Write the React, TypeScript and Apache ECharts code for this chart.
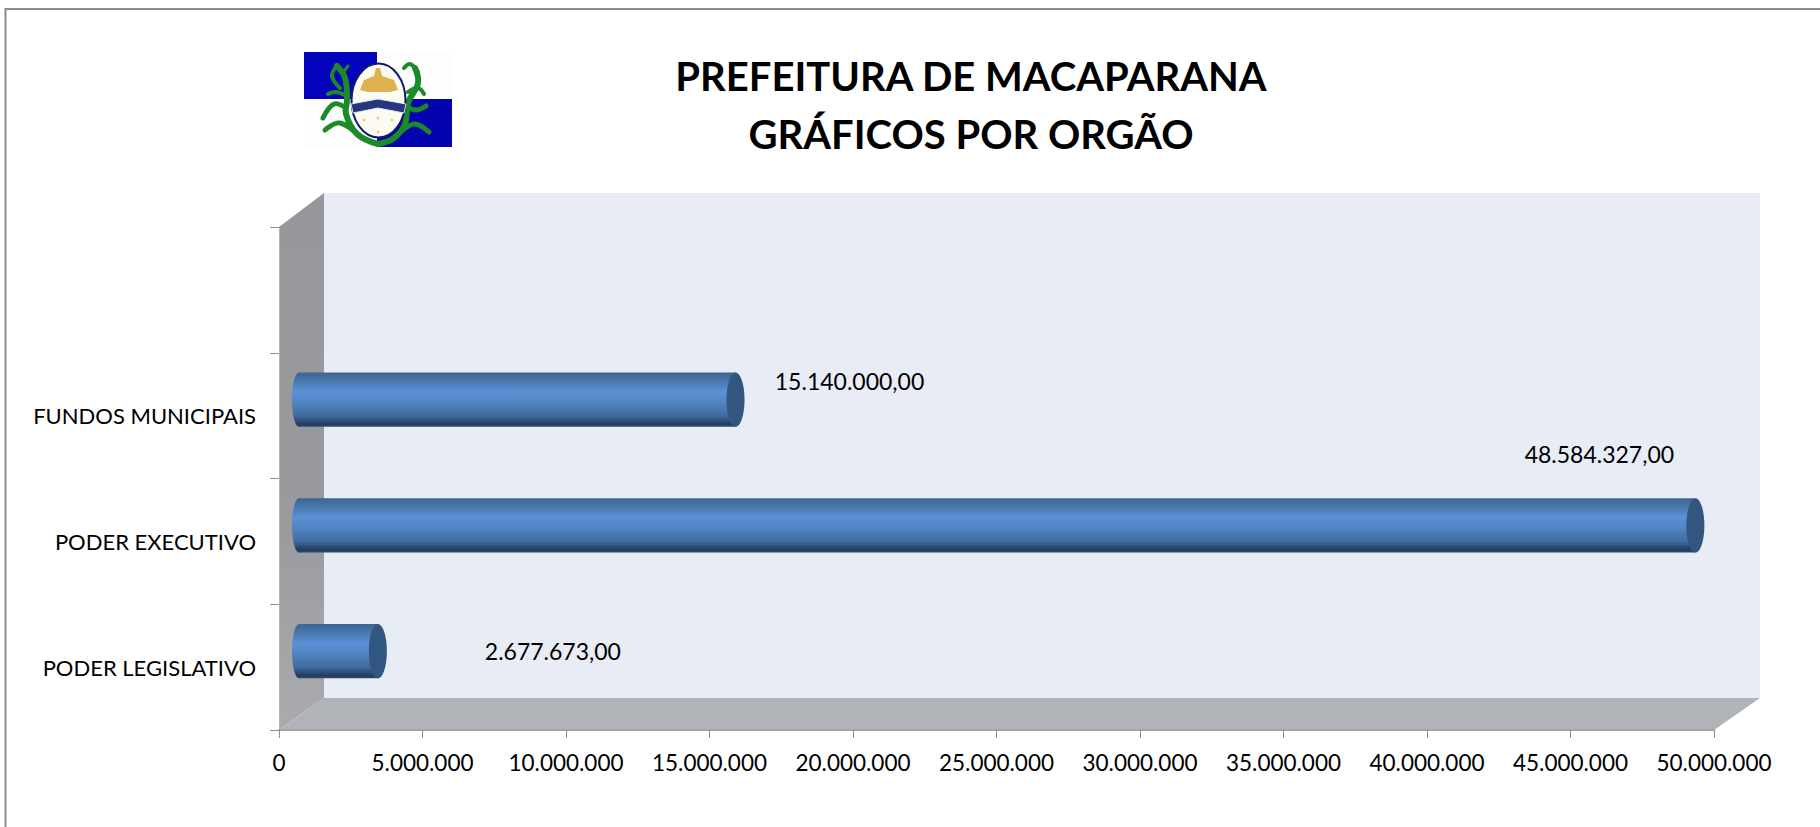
import React, { useEffect, useRef } from "react";
import * as echarts from "echarts";

const categories = ["PODER LEGISLATIVO", "PODER EXECUTIVO", "FUNDOS MUNICIPAIS", ""];
const values = [2677673, 48584327, 15140000];
const titleLines = ["PREFEITURA DE MACAPARANA", "GRÁFICOS POR ORGÃO"];
const axisMax = 50000000;
const axisStep = 5000000;
const labelShiftX = [166, -105, 105];
const labelShiftY = [0, -71, -19];

const FONT = "Lato";
const G = { l: 279, r: 1714, t: 227, b: 730 };
const D = { x: 45, y: 32 };

const thousands = (n: number) => String(Math.round(n)).replace(/\B(?=(\d{3})+(?!\d))/g, ".");
const money = (n: number) => thousands(n) + ",00";

const barGradient = () =>
  new echarts.graphic.LinearGradient(0, 0, 0, 1, [
    { offset: 0, color: "#3d6595" },
    { offset: 0.1, color: "#44709f" },
    { offset: 0.35, color: "#5a90d6" },
    { offset: 0.55, color: "#5385c4" },
    { offset: 0.8, color: "#3f6a9c" },
    { offset: 0.95, color: "#233c5e" },
    { offset: 1, color: "#2c4a70" },
  ]);

function renderBar(params: any, api: any) {
  const i = api.value(0);
  const v = api.value(1);
  const zero = api.coord([0, i]);
  const end = api.coord([v, i]);
  const band = api.size([0, 1])[1];
  const cy = zero[1] - 16;
  const h = band * 0.216;
  const x0 = zero[0] + 13;
  const x1 = end[0] + 31;
  const capRx = 9;
  return {
    type: "group",
    children: [
      { type: "ellipse", shape: { cx: x0 + 7, cy, rx: 7, ry: h }, style: { fill: barGradient() } },
      { type: "rect", shape: { x: x0 + 7, y: cy - h, width: x1 - x0 - 7 - capRx, height: h * 2 }, style: { fill: barGradient() } },
      { type: "ellipse", shape: { cx: x1 - capRx, cy, rx: capRx, ry: h }, style: { fill: "#31567f" } },
      {
        type: "text",
        x: x1 + labelShiftX[i],
        y: cy + labelShiftY[i],
        style: { text: money(v), fill: "#000", font: `23px ${FONT}`, align: "center", verticalAlign: "middle" },
      },
    ],
  };
}

const poly = (points: number[][], fill: any) => ({ type: "polygon", silent: true, shape: { points }, style: { fill } });

const sceneGraphics = () => [
  { type: "rect", silent: true, shape: { x: 5.5, y: 9, width: 1900, height: 900 }, style: { fill: "#fff", stroke: "#8c8c8c", lineWidth: 2 } },
  { type: "rect", silent: true, shape: { x: G.l + D.x, y: G.t - D.y - 2, width: G.r - G.l + 1, height: G.b - G.t + 2 }, style: { fill: "#e8ecf5" } },
  poly(
    [[G.l, G.t], [G.l + D.x, G.t - D.y - 2], [G.l + D.x, G.b - D.y], [G.l, G.b]],
    new echarts.graphic.LinearGradient(0, 0, 0, 1, [
      { offset: 0, color: "#96979b" },
      { offset: 0.6, color: "#999a9e" },
      { offset: 1, color: "#a9abaf" },
    ])
  ),
  poly([[G.l, G.b], [G.l + D.x, G.b - D.y], [G.r + D.x + 1, G.b - D.y], [G.r, G.b]], "#b0b3b7"),
  { type: "group", x: 304, y: 52, children: logoParts() },
];

function logoParts() {
  const leaf = (pts: number[][], w = 4) => ({
    type: "polyline",
    silent: true,
    shape: { points: pts, smooth: 0.4 },
    style: { stroke: "#1c8a28", lineWidth: w, fill: "none", lineCap: "round", lineJoin: "round" },
  });
  return [
    { type: "rect", silent: true, shape: { x: 0, y: 0, width: 148, height: 95 }, style: { fill: "#fcfdfc" } },
    { type: "rect", silent: true, shape: { x: 0, y: 0, width: 73, height: 47 }, style: { fill: "#0303bb" } },
    { type: "rect", silent: true, shape: { x: 73, y: 47, width: 75, height: 48 }, style: { fill: "#0303b0" } },
    leaf([[33, 14], [41, 26], [43, 48], [42, 62], [53, 82], [74, 92]], 6),
    leaf([[111, 16], [114, 31], [104, 51], [101, 72], [90, 86], [74, 92]], 6),
    leaf([[33, 14], [28, 24], [36, 36]], 4),
    leaf([[44, 14], [38, 22]], 3),
    leaf([[43, 44], [32, 40], [24, 42]], 4),
    leaf([[19, 66], [30, 52], [42, 56]], 5),
    leaf([[21, 78], [36, 71], [58, 86]], 5),
    leaf([[100, 16], [106, 12], [114, 20]], 4),
    leaf([[104, 40], [114, 36], [120, 42]], 4),
    leaf([[122, 54], [112, 58], [102, 54]], 5),
    leaf([[125, 80], [110, 72], [92, 84]], 5),
    { type: "ellipse", silent: true, shape: { cx: 74.5, cy: 48.5, rx: 27, ry: 37 }, style: { fill: "#fbfbf3", stroke: "#12186e", lineWidth: 2 } },
    { type: "polygon", silent: true, shape: { points: [[56, 38], [60, 28], [70, 24], [72, 16], [76, 16], [78, 24], [90, 28], [94, 38], [86, 40], [64, 40]] }, style: { fill: "#dcb14e" } },
    { type: "polygon", silent: true, shape: { points: [[47, 52], [74, 47], [102, 52], [100, 61], [74, 56], [49, 61]] }, style: { fill: "#27357f", stroke: "#dfe3ee", lineWidth: 1 } },
    { type: "circle", silent: true, shape: { cx: 74, cy: 66, r: 1.5 }, style: { fill: "#e8cf80" } },
    { type: "circle", silent: true, shape: { cx: 60, cy: 68, r: 1.5 }, style: { fill: "#e8cf80" } },
    { type: "circle", silent: true, shape: { cx: 88, cy: 68, r: 1.5 }, style: { fill: "#e8cf80" } },
    { type: "circle", silent: true, shape: { cx: 74, cy: 80, r: 1.5 }, style: { fill: "#e8cf80" } },
  ];
}

export default function App() {
  const ref = useRef<HTMLDivElement>(null);
  useEffect(() => {
    document.body.style.margin = "0";
    const chart = echarts.init(ref.current!, undefined, { renderer: "svg" });
    chart.setOption({
      animation: false,
      backgroundColor: "#fff",
      title: {
        text: titleLines.join("\n"),
        left: 966,
        top: 42,
        textAlign: "center",
        textStyle: { fontFamily: FONT, fontWeight: "bold", fontSize: 40, lineHeight: 58, color: "#000" },
      },
      graphic: { elements: sceneGraphics() },
      grid: { left: G.l, top: G.t, width: G.r - G.l, height: G.b - G.t },
      xAxis: {
        type: "value",
        min: 0,
        max: axisMax,
        interval: axisStep,
        splitLine: { show: false },
        axisLine: { show: true, lineStyle: { color: "#a3a3a3", width: 2 } },
        axisTick: { show: true, length: 8, lineStyle: { color: "#8c8c8c" } },
        axisLabel: { margin: 21, fontFamily: FONT, fontSize: 22.5, color: "#000", formatter: (v: number) => thousands(v) },
      },
      yAxis: {
        type: "category",
        data: categories,
        splitLine: { show: false },
        axisLine: { show: true, lineStyle: { color: "#b4b4b4" } },
        axisTick: { show: true, length: 9, lineStyle: { color: "#8c8c8c" } },
        axisLabel: { margin: 23, fontFamily: FONT, fontSize: 22, color: "#000" },
      },
      series: [
        {
          type: "custom",
          renderItem: renderBar,
          data: values.map((v, i) => [i, v]),
          encode: { x: 1, y: 0 },
          clip: false,
          z: 5,
        },
      ],
    });
    return () => chart.dispose();
  }, []);
  return <div ref={ref} style={{ width: 1820, height: 827 }} />;
}
